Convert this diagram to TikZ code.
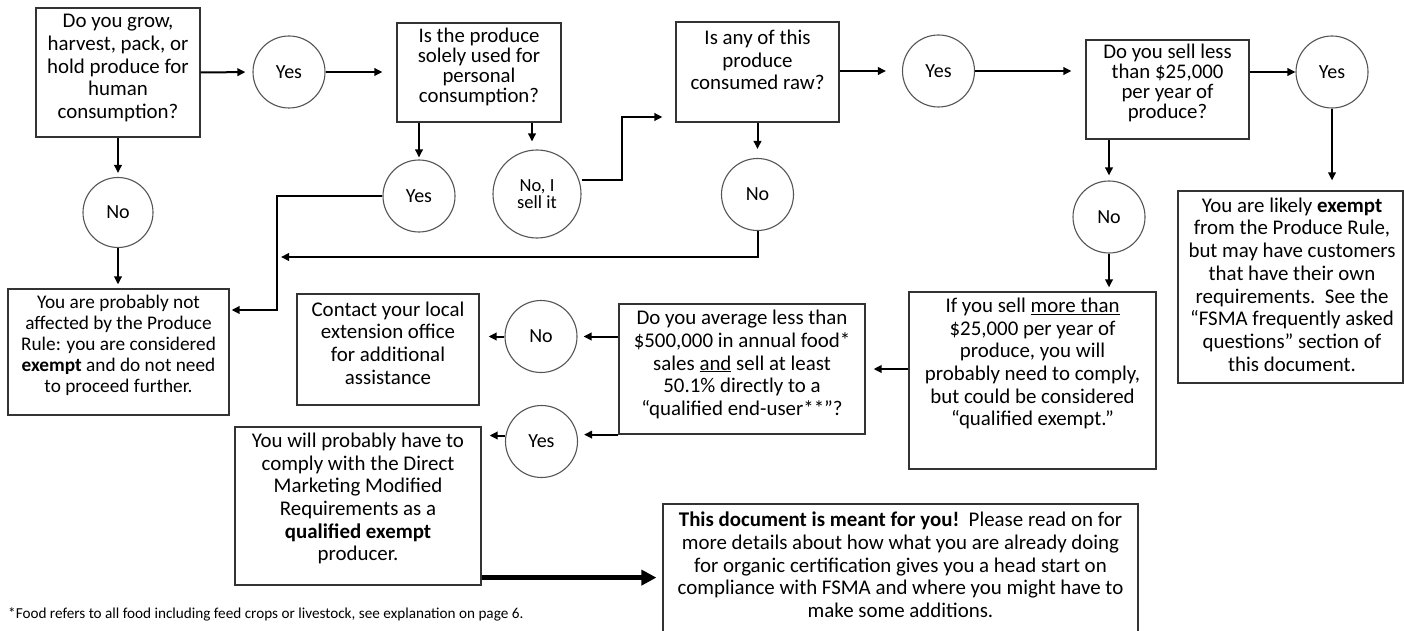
\documentclass[tikz,border=0pt]{standalone}
\usepackage{fontspec}
\setmainfont{Carlito}
\usetikzlibrary{arrows.meta,calc}
\definecolor{boxgray}{HTML}{333333}
\definecolor{circgray}{HTML}{555555}
\tikzset{
  box/.style={draw=boxgray,line width=1.2pt,inner sep=0pt},
  circ/.style={circle,draw=circgray,line width=1.1pt,inner sep=0pt,minimum size=72pt,align=center,font=\fontsize{20}{22}\selectfont},
  txt/.style={align=center,inner sep=0pt,font=\fontsize{20.9}{22.7}\selectfont},
  txtsm/.style={align=center,inner sep=0pt,font=\fontsize{20.8}{20}\selectfont},
  arr/.style={line width=2pt,-{Triangle[length=8pt,width=7.5pt]}},
  bigarr/.style={line width=5pt,-{Triangle[length=15pt,width=15pt]}}
}
\begin{document}
\begin{tikzpicture}[x=1pt,y=-1pt]
\useasboundingbox (0,0) rectangle (1404,631);
\clip (0,0) rectangle (1404,631);
\fill[white] (0,0) rectangle (1404,631);

% boxes
\node[box,minimum width=164pt,minimum height=129pt] (b1) at (118,72.5) {};
\node[box,minimum width=164pt,minimum height=99pt] (b2) at (479,72.5) {};
\node[box,minimum width=163pt,minimum height=100pt] (b3) at (757.5,72) {};
\node[box,minimum width=163pt,minimum height=99pt] (b5) at (1167.5,89.5) {};
\node[box,minimum width=225pt,minimum height=192pt] (b6) at (1290.5,287) {};
\node[box,minimum width=221pt,minimum height=126pt] (b4) at (118.5,352) {};
\node[box,minimum width=182pt,minimum height=111pt] (b9) at (388,349.5) {};
\node[box,minimum width=246pt,minimum height=158pt] (b10) at (358,506) {};
\node[box,minimum width=246pt,minimum height=130pt] (b8) at (742,369) {};
\node[box,minimum width=247pt,minimum height=177pt] (b7) at (1032.5,380.5) {};
\node[box,minimum width=475pt,minimum height=156pt] (b11) at (900.5,582) {};

% box texts
\node[txt] (t1) at (118,68) {Do you grow,\\harvest, pack, or\\hold produce for\\human\\consumption?};
\node[txtsm] (t2) at (479,67) {Is the produce\\solely used for\\personal\\consumption?};
\node[txt] (t3) at (757.5,60) {Is any of this\\produce\\consumed raw?};
\node[txtsm] (t5) at (1167.5,83) {Do you sell less\\than \$25,000\\per year of\\produce?};
\node[txt] (t6) at (1292,284.5) {You are likely \textbf{exempt}\\from the Produce Rule,\\but may have customers\\that have their own\\requirements.\ \ See the\\“FSMA frequently asked\\questions” section of\\this document.};
\node[align=center,inner sep=0pt,font=\fontsize{19.3}{21}\selectfont] (t4) at (118.5,345) {You are probably not\\affected by the Produce\\Rule: you are considered\\\textbf{exempt} and do not need\\to proceed further.};
\node[txt] (t9) at (388,343) {Contact your local\\extension office\\for additional\\assistance};
\node[txt] (t10) at (358,498.5) {You will probably have to\\comply with the Direct\\Marketing Modified\\Requirements as a\\\textbf{qualified exempt}\\producer.};
\node[txt] (t8) at (742,364.5) {Do you average less than\\\$500,000 in annual food*\\sales \underline{and} sell at least\\50.1\% directly to a\\“qualified end-user**”?};
\node[txt] (t7) at (1032.5,363.5) {If you sell \underline{more than}\\\$25,000 per year of\\produce, you will\\probably need to comply,\\but could be considered\\“qualified exempt.”};
\node[txt] (t11) at (900.5,565) {\textbf{This document is meant for you!}\ \ Please read on for\\more details about how what you are already doing\\for organic certification gives you a head start on\\compliance with FSMA and where you might have to\\make some additions.};

% circles
\node[circ] (y1) at (289,72) {Yes};
\node[circ] (y2) at (419,196) {Yes};
\node[circ,minimum size=88pt,font=\fontsize{18.5}{17.5}\selectfont] (n2) at (537,194) {No, I\\sell it};
\node[circ] (n3) at (757.5,194.5) {No};
\node[circ] (y3) at (938.5,71) {Yes};
\node[circ] (y5) at (1332,72) {Yes};
\node[circ] (n5) at (1109,217) {No};
\node[circ,minimum size=70pt] (n1) at (118,212.5) {No};
\node[circ] (n8) at (541,336.5) {No};
\node[circ] (y8) at (541.5,441.5) {Yes};

% footnote
\node[anchor=base west,inner sep=0pt,font=\fontsize{15.2}{17}\selectfont] (fn) at (8,618) {*Food refers to all food including feed crops or livestock, see explanation on page 6.};

% connectors
\coordinate (k1) at (622,180);
\coordinate (k2) at (622,117);
\coordinate (m1) at (281,257);
\coordinate (k3) at (277,310);

\draw[arr,shorten >=7pt] (b1.east) -- (y1.west);
\draw[arr,shorten >=14pt] (y1.east) -- (y1.east -| b2.west);
\draw[arr,shorten >=2pt] (y2.north |- b2.south) -- (y2.north);
\draw[arr,shorten >=8pt] ($(n2.north |- b2.south)+(-5,0)$) -- ($(n2.north)+(-5,0)$);
\draw[arr,shorten >=13pt] (n2.east |- k1) -- (k1) -- (k2) -- (k2 -| b3.west);
\draw[arr,shorten >=9pt] (b3.south) -- (n3.north);
\draw[arr] (n3.south) |- (m1);
\draw[arr,shorten >=2pt] (y2.west) -| (k3) -- (k3 -| b4.east);
\draw[arr,shorten >=4pt] (n1.north |- b1.south) -- (n1.north);
\draw[arr,shorten >=4pt] (n1.south) -- (n1.south |- b4.north);
\draw[arr,shorten >=16pt] (b3.east |- y3.west) -- (y3.west);
\draw[arr,shorten >=14pt] (y3.east) -- (y3.east -| b5.west);
\draw[arr] (b5.east |- y5.west) -- (y5.west);
\draw[arr,shorten >=10pt] (y5.south) -- (y5.south |- b6.north);
\draw[arr,shorten >=5pt] (n5.north |- b5.south) -- (n5.north);
\draw[arr,shorten >=4pt] (n5.south) -- (n5.south |- b7.north);
\draw[arr,shorten >=8pt] (b7.west |- b8.east) -- (b8.east);
\draw[arr,shorten >=6pt] (b8.west |- n8.east) -- (n8.east);
\draw[arr,shorten >=9pt] (n8.west) -- (n8.west -| b9.east);
\draw[arr,shorten >=6pt] (b8.south west) -- (y8.east |- b8.south west);
\draw[arr,shorten >=8pt] ($(y8.west)+(0,-6)$) -- ($(y8.west -| b10.east)+(0,-6)$);
\draw[bigarr,shorten >=6pt] ($(b10.south east)+(0,-8)$) -- ($(b10.south east -| b11.west)+(0,-8)$);
\end{tikzpicture}
\end{document}
